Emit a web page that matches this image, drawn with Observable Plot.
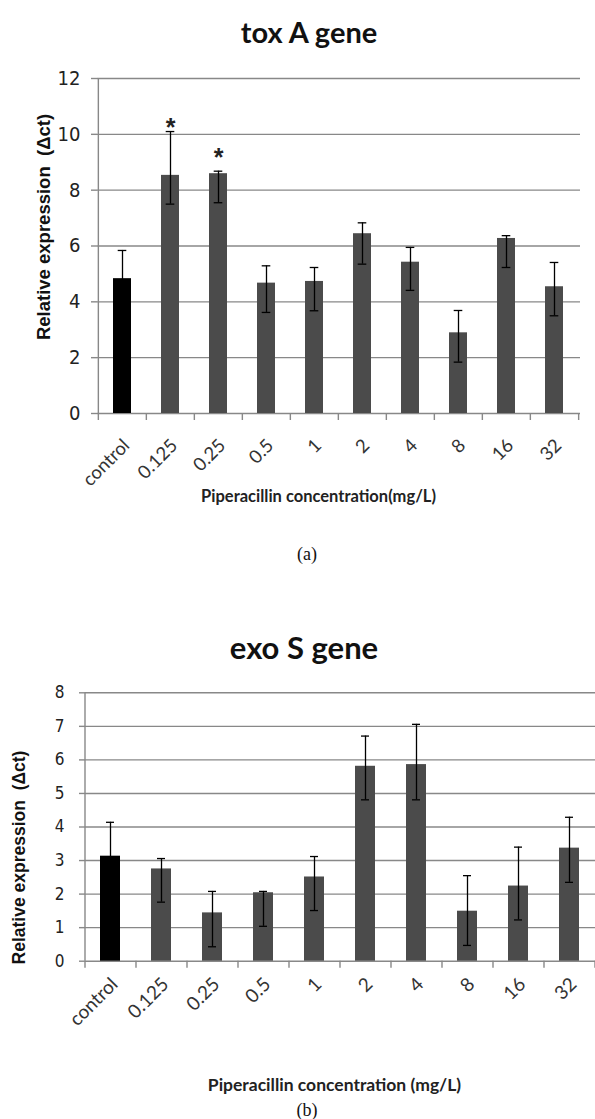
<!DOCTYPE html>
<html><head><meta charset="utf-8">
<script src="https://cdn.jsdelivr.net/npm/d3@7"></script>
<script src="https://cdn.jsdelivr.net/npm/@observablehq/plot@0.6"></script>
<style>
html,body{margin:0;padding:0;background:#fff;}
#page{position:relative;width:595px;height:1119px;overflow:hidden;background:#fff;}
.abs{position:absolute;left:0;}
.title{font-family:Lato,"Open Sans",sans-serif;font-weight:700;color:#111;text-align:center;white-space:nowrap;}
.cap{font-family:"Liberation Serif","DejaVu Serif",serif;color:#111;text-align:center;white-space:nowrap;}
</style></head><body><div id="page"></div>
<script>
// ---- data ----
const categories = ["control", "0.125", "0.25", "0.5", "1", "2", "4", "8", "16", "32"];

const toxAMean = [4.83, 8.53, 8.59, 4.67, 4.73, 6.44, 5.42, 2.89, 6.27, 4.54];
const toxAHigh = [5.84, 10.1, 8.68, 5.29, 5.23, 6.83, 5.95, 3.69, 6.37, 5.41];
const toxALow  = [3.83, 7.50, 7.55, 3.62, 3.68, 5.35, 4.41, 1.84, 5.23, 3.50];
const toxATicks = [0, 2, 4, 6, 8, 10, 12];
const toxAStarCats = ["0.125", "0.25"];
const toxAStarY = [10.45, 9.38];

const exoSMean = [3.13, 2.75, 1.44, 2.04, 2.51, 5.81, 5.86, 1.49, 2.24, 3.37];
const exoSHigh = [4.14, 3.06, 2.08, 2.08, 3.12, 6.71, 7.06, 2.55, 3.40, 4.29];
const exoSLow  = [2.12, 1.76, 0.43, 1.04, 1.51, 4.81, 4.81, 0.47, 1.23, 2.35];
const exoSTicks = [0, 1, 2, 3, 4, 5, 6, 7, 8];

const titleA = "tox A gene";
const titleB = "exo S gene";
const xLabelA = "Piperacillin concentration(mg/L)";
const xLabelB = "Piperacillin concentration (mg/L)";
const yLabel = "Relative expression  (\u0394ct)";
const captionA = "(a)";
const captionB = "(b)";

const GRID = "#888888";
const page = document.getElementById("page");

function addDiv(cls, text, top, centerX, fontSize, lineH) {
  const d = document.createElement("div");
  d.className = "abs " + cls;
  d.textContent = text;
  d.style.top = top + "px";
  d.style.width = (centerX * 2) + "px";
  d.style.fontSize = fontSize + "px";
  d.style.lineHeight = lineH + "px";
  page.appendChild(d);
}

function chart(o) {
  const rows = categories.map((c, i) => ({cat: c, mean: o.mean[i], hi: o.hi[i], lo: o.lo[i], fill: i === 0 ? "#000000" : "#4b4b4b"}));
  const stars = (o.starCats || []).map((c, i) => ({cat: c, y: o.starY[i]}));
  const yMax = o.ticks[o.ticks.length - 1];
  const step = (595 - o.ml - o.mr) / categories.length;
  const p = Plot.plot({
    width: 595, height: o.height,
    marginTop: o.mt, marginBottom: o.mb, marginLeft: o.ml, marginRight: o.mr,
    x: {type: "band", domain: categories, paddingInner: o.pad, paddingOuter: o.pad / 2},
    y: {domain: [0, yMax]},
    color: {type: "identity"},
    style: {background: "transparent", overflow: "visible", fontFamily: "Lato, sans-serif"},
    marks: [
      Plot.gridY(o.ticks, {stroke: GRID, strokeOpacity: 1, strokeWidth: 1.4}),
      Plot.ruleX([categories[0]], {dx: -step / 2, y1: 0, y2: yMax, stroke: GRID, strokeWidth: 1.4}),
      Plot.axisX(categories, {tickSize: 7, tickFormat: () => "", dx: -step / 2, stroke: GRID, strokeWidth: 1.4, label: null}),
      Plot.axisX([categories[categories.length - 1]], {tickSize: 7, tickFormat: () => "", dx: step / 2, stroke: GRID, strokeWidth: 1.4, label: null}),
      Plot.axisY(o.ticks, {tickSize: 6, tickPadding: o.tickPad, stroke: GRID, strokeWidth: 1.4, fill: "#222", fontSize: o.yFont, fontFamily: "'Liberation Sans Narrow', 'DejaVu Sans Condensed', 'Liberation Sans', sans-serif", label: null}),
      Plot.barY(rows, {x: "cat", y: "mean", fill: "fill"}),
      Plot.ruleX(rows, {x: "cat", y1: "lo", y2: "hi", stroke: "#000", strokeWidth: 1.3}),
      Plot.tickY(rows, {x: "cat", y: "hi", insetLeft: o.capInset, insetRight: o.capInset, stroke: "#000", strokeWidth: 1.3}),
      Plot.tickY(rows, {x: "cat", y: "lo", insetLeft: o.capInset, insetRight: o.capInset, stroke: "#000", strokeWidth: 1.3}),
      Plot.text(stars, {x: "cat", y: "y", text: () => "*", fontSize: 25, fontWeight: "bold", dy: 6, fill: "#222", fontFamily: "'Liberation Sans', sans-serif"}),
      Plot.text(categories, {x: d => d, frameAnchor: "bottom", text: d => d, rotate: -45, textAnchor: "end", lineAnchor: "middle", dx: o.tdx, dy: o.tdy, fontSize: o.xFont, fill: "#333", fontFamily: "Lato, sans-serif"}),
      Plot.text([o.xLabel], {frameAnchor: "bottom", text: d => d, textAnchor: "middle", dx: o.xlDx, dy: o.xlDy, fontSize: o.xlFont, fontWeight: "bold", fill: "#222", fontFamily: "Lato, sans-serif"}),
      Plot.text([yLabel], {frameAnchor: "left", text: d => d, rotate: -90, textAnchor: "middle", dx: o.ylDx, dy: o.ylDy, fontSize: o.ylFont, fontWeight: "bold", fill: "#111", fontFamily: "'Liberation Sans', Arial, sans-serif"})
    ]
  });
  p.style.position = "absolute";
  p.style.left = "0px";
  p.style.top = o.top + "px";
  page.appendChild(p);
}

chart({
  top: 0, height: 520, mt: 78, mb: 107, ml: 97, mr: 15, pad: 0.62, capInset: 4.7,
  mean: toxAMean, hi: toxAHigh, lo: toxALow, ticks: toxATicks,
  starCats: toxAStarCats, starY: toxAStarY,
  yFont: 20, tickPad: 11, xFont: 18.5, tdx: 4, tdy: 29,
  xLabel: xLabelA, xlDx: -20.5, xlDy: 88, xlFont: 16.5,
  ylDx: -53.4, ylDy: -19, ylFont: 18.5
});

chart({
  top: 660, height: 459, mt: 32.3, mb: 158.3, ml: 85, mr: 0, pad: 0.6, capInset: 6,
  mean: exoSMean, hi: exoSHigh, lo: exoSLow, ticks: exoSTicks,
  yFont: 17, tickPad: 15, xFont: 19, tdx: 4, tdy: 20,
  xLabel: xLabelB, xlDx: -6, xlDy: 130, xlFont: 17.5,
  ylDx: -66, ylDy: 30.5, ylFont: 17.5
});

addDiv("title", titleA, 14, 309, 29, 36);
addDiv("title", titleB, 628, 304, 31, 38);
addDiv("cap", captionA, 543, 307, 18, 22);
addDiv("cap", captionB, 1099, 307, 18, 22);
</script>
</body></html>
